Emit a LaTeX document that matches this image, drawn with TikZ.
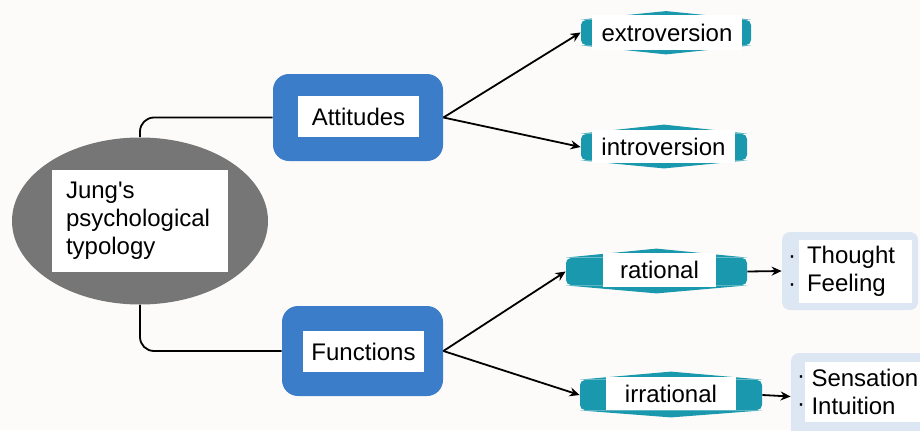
\documentclass[tikz,border=0pt]{standalone}
\usepackage{fontspec}
\setmainfont{Liberation Sans}
\usetikzlibrary{arrows.meta,positioning,shapes.geometric,calc}
\definecolor{PageWhite}{RGB}{252,251,250}
\definecolor{RootGray}{RGB}{118,118,118}
\definecolor{HeadBlue}{RGB}{59,125,201}
\definecolor{TagTeal}{RGB}{26,152,173}
\definecolor{ListBlue}{RGB}{221,231,244}
\tikzset{
  root/.style={ellipse,fill=RootGray,minimum width=128pt,minimum height=83.5pt},
  whitebox/.style={fill=white,inner sep=0pt,align=center,
    font=\fontsize{12}{14}\selectfont},
  head/.style={fill=HeadBlue,rounded corners=8pt},
  tag/.style={fill=TagTeal,rounded corners=2.5pt},
  listbox/.style={fill=ListBlue,rounded corners=4pt},
  listtext/.style={fill=white,align=left,inner sep=0pt,
    font=\fontsize{12}{14}\selectfont},
  link/.style={line width=0.9pt,rounded corners=7pt},
  arrow/.style={-{Stealth[length=5pt,width=4.5pt]},line width=0.9pt}
}
\begin{document}
\begin{tikzpicture}[x=0.5pt,y=0.5pt]
  \useasboundingbox (0,0) rectangle (920,430);
  \fill[PageWhite] (0,0) rectangle (920,430);
  \clip (0,0) rectangle (920,430);

  % root
  \node[root] (jung) at (140,209) {};
  \node[whitebox,align=left,text width=74pt,inner xsep=7pt,minimum height=51pt]
    (jungT) at (140,209) {Jung\textquotesingle s\\psychological\\typology};

  % attitudes / functions
  \node[head,minimum width=85pt,minimum height=43.5pt] (att) at (358,312.5) {};
  \node[whitebox,minimum width=60.5pt,minimum height=20.5pt] (attT) at (358.5,313.5) {Attitudes};
  \node[head,minimum width=80.5pt,minimum height=45pt] (fun) at (362.5,79) {};
  \node[whitebox,minimum width=60.5pt,minimum height=20.5pt] (funT) at (363.5,78.5) {Functions};

  % tags
  \node[tag,minimum width=85pt,minimum height=12.5pt] (ext) at (666,397.5) {};
  \node[tag,minimum width=83pt,minimum height=13pt] (int) at (664,283) {};
  \node[tag,minimum width=90.5pt,minimum height=13.5pt] (rat) at (656.5,158.5) {};
  \node[tag,minimum width=91pt,minimum height=15pt] (irr) at (671,35) {};
  \foreach \t/\p/\d in {ext/8.5/9,int/9/8,rat/9/8,irr/8/7}{
    \fill[TagTeal] (\t.north west) -- ($(\t.north)+(0,\p)$) -- (\t.north east) -- cycle;
    \fill[TagTeal] (\t.south west) -- ($(\t.south)-(0,\d)$) -- (\t.south east) -- cycle;
  }
  \node[whitebox,minimum width=75pt,minimum height=17.5pt] (extT) at (667,397.5) {extroversion};
  \node[whitebox,minimum width=71.5pt,minimum height=16.5pt] (intT) at (663.5,283.5) {introversion};
  \node[whitebox,minimum width=56.5pt,minimum height=17pt] (ratT) at (659.5,160) {rational};
  \node[whitebox,minimum width=65pt,minimum height=16.5pt] (irrT) at (671,36.5) {irrational};

  % lists
  \node[listbox,minimum width=68pt,minimum height=39pt] (lst1) at (850,159) {};
  \node[listtext,text width=48.5pt,inner xsep=4pt,minimum height=31.5pt] (lst1T) at (855.5,158.5) {Thought\\Feeling};
  \node[listbox,minimum width=74.5pt,minimum height=43.5pt] (lst2) at (865.5,33.5) {};
  \node[listtext,text width=57.5pt,inner xsep=3.5pt,minimum height=30pt] (lst2T) at (869,38) {Sensation\\Intuition};
  \node[listtext,fill=none] (dots1) at (792,158.5) {\strut·\\\strut·};
  \node[listtext,fill=none] (dots2) at (801,38) {\strut·\\\strut·};

  % connectors
  \draw[link] (jung.north) |- (att.west);
  \draw[link] (jung.south) |- (fun.west);
  \draw[arrow] (att.east) -- (ext.west);
  \draw[arrow] (att.east) -- (int.west);
  \draw[arrow] (fun.east) -- (rat.west);
  \draw[arrow] (fun.east) -- (irr.west);
  \draw[arrow] (rat.east) -- (lst1.west);
  \draw[arrow] (irr.east) -- (lst2.west);
\end{tikzpicture}
\end{document}
